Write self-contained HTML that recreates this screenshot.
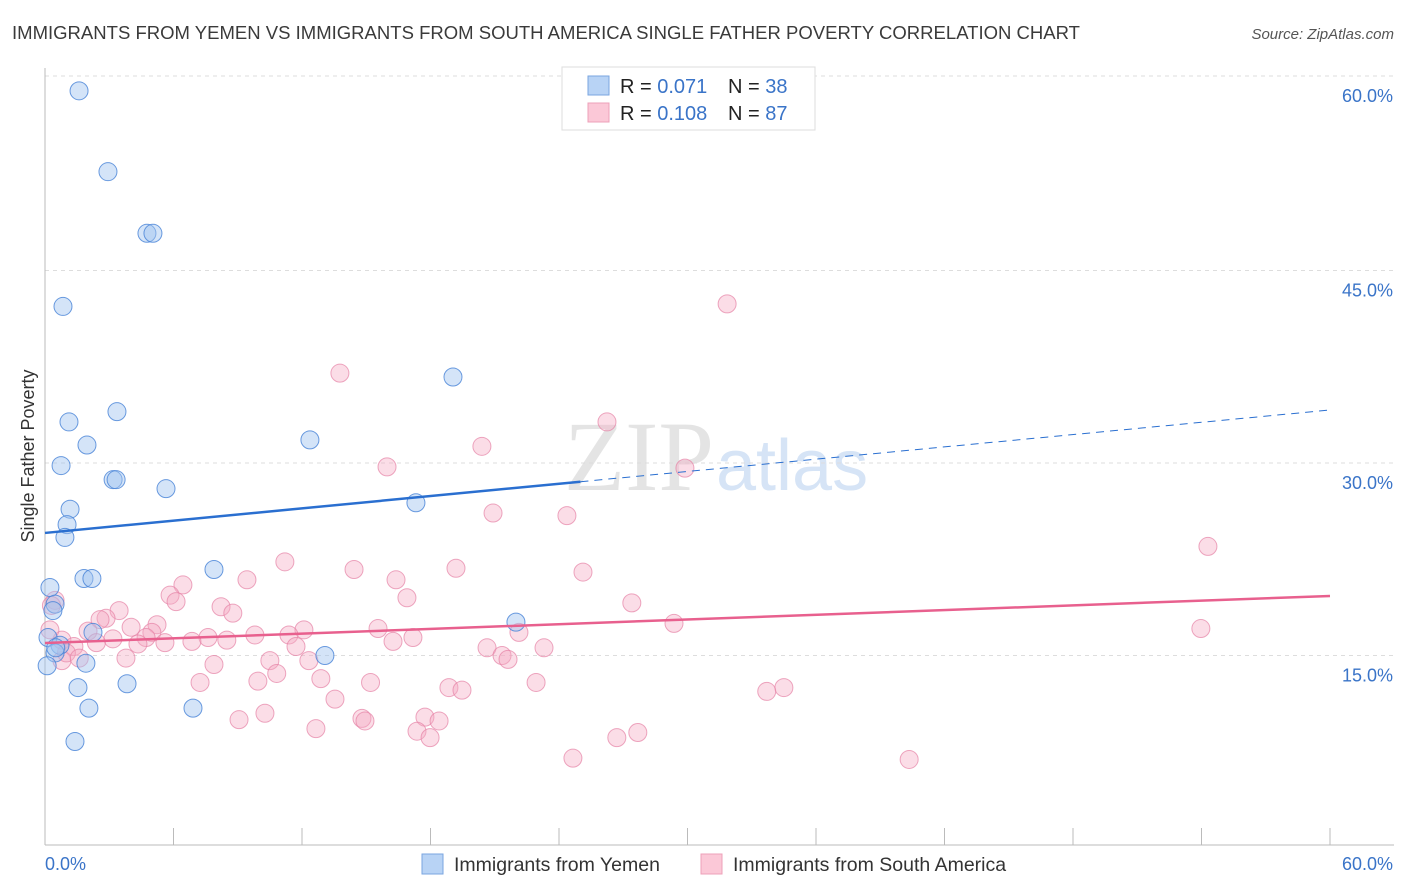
<!DOCTYPE html>
<html><head><meta charset="utf-8"><style>
body{margin:0;background:#fff;font-family:"Liberation Sans",sans-serif;}
#wrap{position:relative;width:1406px;height:892px;overflow:hidden;}
</style></head><body>
<div id="wrap">
<svg id="svg" width="1406" height="892" xmlns="http://www.w3.org/2000/svg">
<text x="12" y="39" font-size="18" fill="#3a3a3a" textLength="1068" lengthAdjust="spacingAndGlyphs">IMMIGRANTS FROM YEMEN VS IMMIGRANTS FROM SOUTH AMERICA SINGLE FATHER POVERTY CORRELATION CHART</text>
<text x="1394" y="39" font-size="15" fill="#555" font-style="italic" text-anchor="end">Source: ZipAtlas.com</text>
<text x="714" y="490" font-size="100" fill="#e4e4e4" text-anchor="end" font-family="Liberation Serif">ZIP</text>
<text x="716" y="490" font-size="72" fill="#d6e4f6">atlas</text>
<text transform="translate(34,456) rotate(-90)" font-size="18" fill="#333" text-anchor="middle">Single Father Poverty</text>
<g id="grid"></g><g id="axes"></g><g id="pts"></g><g id="lines"></g>
<g>
<rect x="562" y="67" width="253" height="63" fill="#fff" stroke="#ddd"/>
<rect x="588" y="76" width="21" height="19" fill="#b8d3f5" stroke="#7aa6e0"/>
<rect x="588" y="103" width="21" height="19" fill="#fbc8d7" stroke="#eea0b8"/>
<text x="620" y="93" font-size="20" fill="#222">R = <tspan fill="#3a74c8">0.071</tspan></text>
<text x="728" y="93" font-size="20" fill="#222">N = <tspan fill="#3a74c8">38</tspan></text>
<text x="620" y="120" font-size="20" fill="#222">R = <tspan fill="#3a74c8">0.108</tspan></text>
<text x="728" y="120" font-size="20" fill="#222">N = <tspan fill="#3a74c8">87</tspan></text>
</g>
<g>
<rect x="422" y="854" width="21" height="20" fill="#b8d3f5" stroke="#7aa6e0"/>
<text x="454" y="871" font-size="19.5" fill="#333">Immigrants from Yemen</text>
<rect x="701" y="854" width="21" height="20" fill="#fbc8d7" stroke="#eea0b8"/>
<text x="733" y="871" font-size="19.5" fill="#333">Immigrants from South America</text>
</g>
</svg></div>
<script>
const yTicks=[15,30,45,60];
const yTickLabels=["15.0%","30.0%","45.0%","60.0%"];
const xTicks=[0,6,12,18,24,30,36,42,48,54,60];
const blueX=[1.59,2.94,4.76,5.04,0.84,19.05,3.36,1.12,1.96,12.37,0.75,3.18,3.32,5.65,1.17,17.32,1.03,0.93,7.89,1.82,2.19,0.23,0.47,0.37,21.99,2.24,0.14,0.7,0.47,13.07,1.91,1.54,3.83,2.05,6.91,1.4,0.1,0.5];
const blueY=[59.0,52.7,47.9,47.9,42.2,36.7,34.0,33.2,31.4,31.8,29.8,28.7,28.7,28.0,26.4,26.9,25.2,24.2,21.7,21.0,21.0,20.3,19.0,18.5,17.6,16.8,16.4,15.8,15.2,15.0,14.4,12.5,12.8,10.9,10.9,8.3,14.2,15.6];
const pinkX=[31.85,13.77,26.24,20.4,15.97,29.88,20.92,24.37,54.3,11.2,19.19,14.43,25.12,9.43,16.39,6.44,16.9,5.84,6.12,27.4,8.22,3.46,8.77,2.85,2.57,5.23,4.02,29.37,15.55,53.97,4.99,12.09,11.39,22.13,2.01,9.8,4.72,7.61,8.49,6.86,17.18,16.25,3.17,5.6,0.79,4.34,1.35,11.72,20.64,23.3,3.78,10.5,21.34,21.62,12.32,7.89,10.82,12.88,22.93,7.24,9.94,15.2,18.86,19.47,34.5,33.7,13.54,10.27,9.06,14.8,14.94,17.74,18.4,12.65,17.37,17.98,27.68,26.7,24.65,40.35,0.47,0.79,0.23,1.0,0.3,2.4,1.6];
const pinkY=[42.4,37.0,33.2,31.3,29.7,29.6,26.1,25.9,23.5,22.3,21.8,21.7,21.5,20.9,20.9,20.5,19.5,19.7,19.2,19.1,18.8,18.5,18.3,17.9,17.8,17.4,17.2,17.5,17.1,17.1,16.8,17.0,16.6,16.8,16.9,16.6,16.4,16.4,16.2,16.1,16.4,16.1,16.3,16.0,16.2,15.9,15.7,15.7,15.6,15.6,14.8,14.6,15.0,14.7,14.6,14.3,13.6,13.2,12.9,12.9,13.0,12.9,12.5,12.3,12.5,12.2,11.6,10.5,10.0,10.1,9.9,10.2,9.9,9.3,9.1,8.6,9.0,8.6,7.0,6.9,19.3,14.6,17.0,15.2,18.9,16.0,14.8];
const blueTrend=[24.55,34.13];
const pinkTrend=[15.97,19.64];
const NS="http://www.w3.org/2000/svg";
const sx=v=>45+v/60*1285;
const sy=v=>848-v/15*192.5;
function mk(tag,attrs,parent){const e=document.createElementNS(NS,tag);for(const k in attrs)e.setAttribute(k,attrs[k]);parent.appendChild(e);return e;}
const grid=document.getElementById('grid'),axes=document.getElementById('axes'),pts=document.getElementById('pts'),lines=document.getElementById('lines');
yTicks.forEach((t,i)=>{
 const yy=sy(t)+(t==60?-2:0);
 const g=mk('line',{x1:45,x2:1394,y1:yy,y2:yy,stroke:'#ddd','stroke-dasharray':'4,4'},grid);
 
 
 const l=mk('text',{x:1393,y:yy+26,'font-size':18,fill:'#3a74c8','text-anchor':'end'},axes);
 l.textContent=yTickLabels[i];
 
 
});
const ax=mk('line',{x1:45,x2:1394,y1:845,y2:845,stroke:'#bbb'},axes);


const ay=mk('line',{x1:45,x2:45,y1:68,y2:845,stroke:'#bbb'},axes);


xTicks.forEach(t=>{
 const k=mk('line',{x1:sx(t),x2:sx(t),y1:828,y2:845,stroke:'#bbb'},axes);
 
 
});
const x0=mk('text',{x:45,y:870,'font-size':18,fill:'#3a74c8'},axes);x0.textContent='0.0%';


const x1=mk('text',{x:1393,y:870,'font-size':18,fill:'#3a74c8','text-anchor':'end'},axes);x1.textContent='60.0%';


pinkX.forEach((v,i)=>{
 const c=mk('circle',{cx:sx(v),cy:sy(pinkY[i]),r:9,fill:'rgba(245,170,195,0.4)',stroke:'rgba(230,130,165,0.7)','stroke-width':1},pts);
 
 
});
blueX.forEach((v,i)=>{
 const c=mk('circle',{cx:sx(v),cy:sy(blueY[i]),r:9,fill:'rgba(160,195,240,0.45)',stroke:'rgba(70,130,215,0.8)','stroke-width':1},pts);
 
 
});
const bAt=v=>blueTrend[0]+(blueTrend[1]-blueTrend[0])*v/60;
const bEnd=25;
const b1=mk('line',{x1:sx(0),y1:sy(bAt(0)),x2:sx(bEnd),y2:sy(bAt(bEnd)),stroke:'#2a6fd0','stroke-width':2.5},lines);


const b2=mk('line',{x1:sx(bEnd),y1:sy(bAt(bEnd)),x2:sx(60),y2:sy(bAt(60)),stroke:'#2a6fd0','stroke-width':1,'stroke-dasharray':'8,6'},lines);


const p1=mk('line',{x1:sx(0),y1:sy(pinkTrend[0]),x2:sx(60),y2:sy(pinkTrend[1]),stroke:'#e8608e','stroke-width':2.5},lines);


</script>
</body></html>
